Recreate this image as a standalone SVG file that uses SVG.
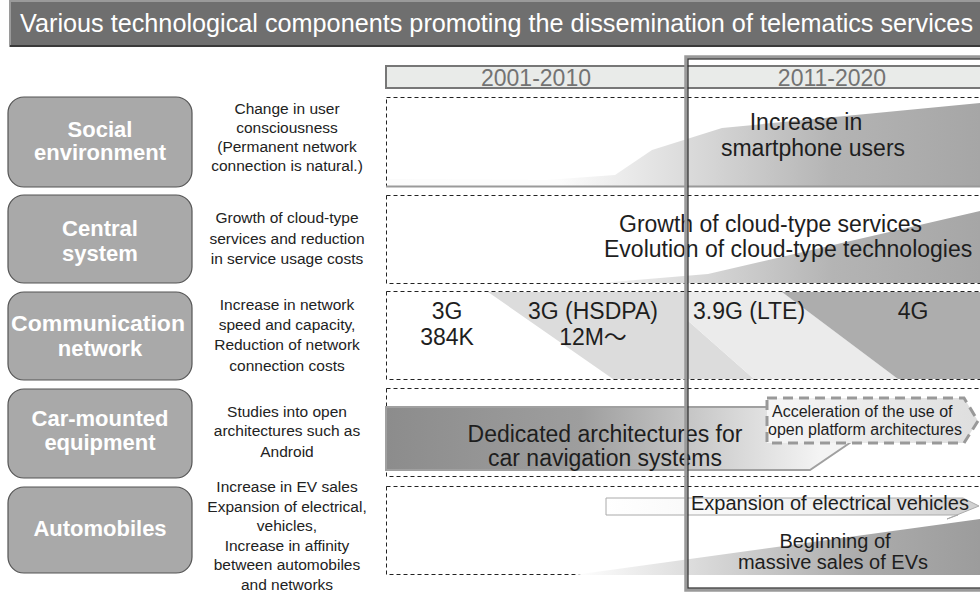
<svg xmlns="http://www.w3.org/2000/svg" width="980" height="593" viewBox="0 0 980 593">
<style>
.t{font-family:"Liberation Sans",Arial,"Noto Sans CJK JP",sans-serif;}
.box{fill:#a9a9a9;stroke:#555;stroke-width:1.2;}
.lbl{font-family:"Liberation Sans",Arial,sans-serif;font-weight:bold;font-size:22px;fill:#fff;text-anchor:middle;}
.desc{font-family:"Liberation Sans",Arial,sans-serif;font-size:15.5px;fill:#222;text-anchor:middle;}
.row{fill:none;stroke:#222;stroke-width:1;stroke-dasharray:4 3;}
.big{font-size:23px;fill:#1e1e1e;}
.mid{font-size:20px;fill:#1e1e1e;}
.yr{font-size:23px;fill:#737373;text-anchor:middle;}
</style>
<defs>
<linearGradient id="g1" gradientUnits="userSpaceOnUse" x1="560" y1="0" x2="980" y2="0">
<stop offset="0" stop-color="#fbfbfb"/><stop offset="0.35" stop-color="#d6d6d6"/><stop offset="0.65" stop-color="#b4b4b4"/><stop offset="1" stop-color="#a6a6a6"/>
</linearGradient>
<linearGradient id="g5" gradientUnits="userSpaceOnUse" x1="580" y1="0" x2="980" y2="0">
<stop offset="0" stop-color="#fdfdfd"/><stop offset="0.35" stop-color="#d4d4d4"/><stop offset="0.7" stop-color="#acacac"/><stop offset="1" stop-color="#9c9c9c"/>
</linearGradient>
<linearGradient id="gd" gradientUnits="userSpaceOnUse" x1="386" y1="0" x2="820" y2="0">
<stop offset="0" stop-color="#8c8c8c"/><stop offset="0.45" stop-color="#9e9e9e"/><stop offset="0.8" stop-color="#d6d6d6"/><stop offset="1" stop-color="#f4f4f4"/>
</linearGradient>
<linearGradient id="gb" gradientUnits="userSpaceOnUse" x1="766" y1="0" x2="980" y2="0">
<stop offset="0" stop-color="#f6f6f6"/><stop offset="1" stop-color="#dedede"/>
</linearGradient>
<linearGradient id="ga" gradientUnits="userSpaceOnUse" x1="606" y1="0" x2="980" y2="0">
<stop offset="0" stop-color="#ffffff"/><stop offset="0.6" stop-color="#f0f0f0"/><stop offset="1" stop-color="#cfcfcf"/>
</linearGradient>
</defs>

<g id="title">
<rect x="10" y="1" width="975" height="45" fill="#6f6f6f" stroke="#9a9a9a" stroke-width="2"/>
<line x1="10" y1="46" x2="980" y2="46" stroke="#3a3a3a" stroke-width="2"/>
<text class="t" x="20" y="32" font-size="25" fill="#fff" textLength="953" lengthAdjust="spacingAndGlyphs">Various technological components promoting the dissemination of telematics services</text>
</g>

<g id="years">
<rect x="386" y="66" width="600" height="22" fill="#e9ebe9" stroke="#777" stroke-width="2"/>
<text class="t yr" x="536" y="85.5">2001-2010</text>
<text class="t yr" x="832" y="85.5">2011-2020</text>
</g>

<g id="row-social">
<rect class="row" x="386.5" y="97.5" width="600" height="89" fill="#fff"/>
<polygon points="388,179 546,180 615,175 652,150 722,128 980,103 980,187 388,187" fill="url(#g1)"/>
<line x1="386" y1="186.5" x2="980" y2="186.5" stroke="#999" stroke-width="2"/>
<text class="t big" x="806" y="130" text-anchor="middle">Increase in</text>
<text class="t big" x="813" y="156" text-anchor="middle">smartphone users</text>
</g>

<g id="row-central">
<rect class="row" x="386.5" y="195.5" width="600" height="88" fill="#fff"/>
<polygon points="600,283 708,274 980,211 980,283" fill="url(#g1)"/>
<text class="t big" x="619" y="232">Growth of cloud-type services</text>
<text class="t big" x="604" y="257">Evolution of cloud-type technologies</text>
</g>

<g id="row-network">
<rect class="row" x="386.5" y="291.5" width="600" height="88" fill="#f2f2f2"/>
<polygon points="488,292 686,292 686,319 754,379 613,379" fill="#dcdcdc"/>
<polygon points="686,292 782,292 898,379 754,379 686,319" fill="#ebebeb"/>
<polygon points="782,292 980,292 980,379 898,379" fill="#adadad"/>
<text class="t big" x="447" y="319" text-anchor="middle">3G</text>
<text class="t big" x="447" y="345" text-anchor="middle">384K</text>
<text class="t big" x="593" y="319" text-anchor="middle">3G (HSDPA)</text>
<text class="t big" x="593" y="345" text-anchor="middle">12M〜</text>
<text class="t big" x="693" y="319">3.9G (LTE)</text>
<text class="t big" x="913" y="319" text-anchor="middle">4G</text>
</g>

<g id="row-car">
<rect class="row" x="386.5" y="388.5" width="600" height="88" fill="#fff"/>
<polygon points="386,407 826,407 860,436 810,470 386,470" fill="url(#gd)" stroke="#a0a0a0" stroke-width="2"/>
<text class="t big" x="605" y="442" text-anchor="middle">Dedicated architectures for</text>
<text class="t big" x="605" y="466" text-anchor="middle">car navigation systems</text>
<polygon points="767,398 964,398 978,421 964,443 767,443" fill="url(#gb)" stroke="#999" stroke-width="3" stroke-dasharray="10 6"/>
<text class="t" x="772" y="417" font-size="16" fill="#1e1e1e">Acceleration of the use of</text>
<text class="t" x="768" y="435" font-size="16" fill="#1e1e1e">open platform architectures</text>
</g>

<g id="row-auto">
<rect class="row" x="386.5" y="486.5" width="600" height="88" fill="#fff"/>
<polygon points="574,575 980,519 980,575" fill="url(#g5)"/>
<polygon points="606,498 963,498 979,506 947,519 958,515 606,515" fill="url(#ga)" stroke="#aaa" stroke-width="1"/>
<text class="t mid" x="691" y="510">Expansion of electrical vehicles</text>
<text class="t mid" x="835" y="548" text-anchor="middle">Beginning of</text>
<text class="t mid" x="833" y="569" text-anchor="middle">massive sales of EVs</text>
</g>

<g id="frame">
<rect x="686" y="57" width="320" height="533" fill="none" stroke="#9a9a9a" stroke-width="3.5"/>
<rect x="688" y="59" width="320" height="529" fill="none" stroke="#2a2a2a" stroke-width="1.2"/>
</g>

<g id="node-social">
<rect class="box" x="8" y="97" width="184" height="90" rx="16"/>
<text class="lbl" x="100" y="137">Social</text>
<text class="lbl" x="100" y="160">environment</text>
<text class="desc" x="287" y="113.5">Change in user</text>
<text class="desc" x="287" y="132.5">consciousness</text>
<text class="desc" x="287" y="151.5">(Permanent network</text>
<text class="desc" x="287" y="170.5">connection is natural.)</text>
</g>
<g id="node-central">
<rect class="box" x="8" y="195" width="184" height="88" rx="16"/>
<text class="lbl" x="100" y="236">Central</text>
<text class="lbl" x="100" y="261">system</text>
<text class="desc" x="287" y="222.5">Growth of cloud-type</text>
<text class="desc" x="287" y="243.5">services and reduction</text>
<text class="desc" x="287" y="263.5">in service usage costs</text>
</g>
<g id="node-communication">
<rect class="box" x="8" y="292" width="184" height="88" rx="16"/>
<text class="lbl" x="98" y="331" font-size="21" textLength="174" lengthAdjust="spacingAndGlyphs">Communication</text>
<text class="lbl" x="100" y="356" font-size="21">network</text>
<text class="desc" x="287" y="309.5">Increase in network</text>
<text class="desc" x="287" y="329.5">speed and capacity,</text>
<text class="desc" x="287" y="349.5">Reduction of network</text>
<text class="desc" x="287" y="370.5">connection costs</text>
</g>
<g id="node-car">
<rect class="box" x="8" y="389" width="184" height="89" rx="16"/>
<text class="lbl" x="100" y="426">Car-mounted</text>
<text class="lbl" x="100" y="450">equipment</text>
<text class="desc" x="287" y="416.5">Studies into open</text>
<text class="desc" x="287" y="435.5">architectures such as</text>
<text class="desc" x="287" y="456.5">Android</text>
</g>
<g id="node-automobiles">
<rect class="box" x="8" y="487" width="184" height="86" rx="16"/>
<text class="lbl" x="100" y="536">Automobiles</text>
<text class="desc" x="287" y="492">Increase in EV sales</text>
<text class="desc" x="287" y="511.5">Expansion of electrical,</text>
<text class="desc" x="287" y="531">vehicles,</text>
<text class="desc" x="287" y="550.5">Increase in affinity</text>
<text class="desc" x="287" y="570">between automobiles</text>
<text class="desc" x="287" y="589.5">and networks</text>
</g>
<g id="connectors"/>
</svg>
